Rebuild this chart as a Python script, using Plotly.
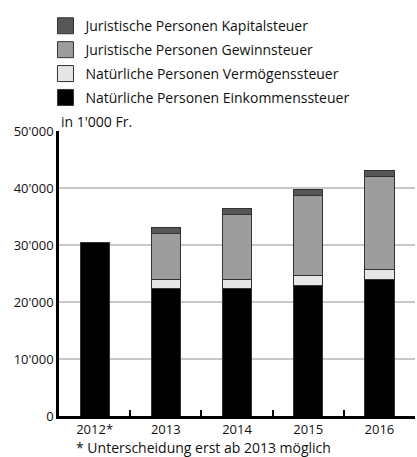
import plotly.graph_objects as go

years = ["2012*", "2013", "2014", "2015", "2016"]

# values in 1'000 Fr.
einkommen = [30500, 22400, 22400, 22950, 24000]
vermoegen = [0, 1600, 1500, 1650, 1650]
gewinn = [0, 8050, 11400, 14000, 16300]
kapital = [0, 1000, 1050, 1100, 1200]

SERIES = [
    ("Natürliche Personen Einkommenssteuer", einkommen, "#000000"),
    ("Natürliche Personen Vermögenssteuer", vermoegen, "#e6e6e6"),
    ("Juristische Personen Gewinnsteuer", gewinn, "#9d9d9d"),
    ("Juristische Personen Kapitalsteuer", kapital, "#575757"),
]
FONT = "Open Sans"
OUTLINE = "#333333"

fig = go.Figure()
for name, values, color in SERIES:
    fig.add_trace(go.Bar(
        x=years, y=values, name=name, showlegend=False,
        marker={"color": color, "line": {"color": OUTLINE, "width": 1}},
        hoverinfo="skip",
    ))
# legend proxies (top entry = top of the stack), larger swatches than the bar icon
for i, (name, values, color) in enumerate(reversed(SERIES)):
    fig.add_trace(go.Scatter(
        x=[None], y=[None], mode="markers", name=name, legendgroup=f"g{i}",
        marker={"symbol": "square", "size": 16, "color": color,
                "line": {"color": OUTLINE, "width": 1}},
    ))

fig.update_layout(
    width=417, height=457,
    barmode="stack", bargap=0.59,
    separators=".'",
    paper_bgcolor="white", plot_bgcolor="white",
    font={"family": FONT, "size": 14, "color": "#111111"},
    margin={"l": 59, "r": 2, "t": 131, "b": 41, "autoexpand": False},
    legend={
        "x": -0.038, "y": 1.424, "xanchor": "left", "yanchor": "top",
        "traceorder": "grouped", "tracegroupgap": 2.7,
        "font": {"family": FONT, "size": 14, "color": "#111111"},
        "bgcolor": "rgba(0,0,0,0)",
    },
    annotations=[
        dict(text="in 1'000 Fr.", x=0, y=1, xref="paper", yref="paper",
             xanchor="left", yanchor="bottom", xshift=0, yshift=-2,
             showarrow=False, font={"family": FONT, "size": 14, "color": "#111111"}),
        dict(text="* Unterscheidung erst ab 2013 möglich", x=0.042, y=0,
             xref="paper", yref="paper", xanchor="left", yanchor="top",
             yshift=-20, showarrow=False,
             font={"family": FONT, "size": 14, "color": "#111111"}),
    ],
)
fig.update_xaxes(
    type="category", showline=True, linecolor="#000000", linewidth=2.5,
    ticks="inside", tickson="boundaries", ticklen=6, tickwidth=2, tickcolor="#000000",
    showgrid=False, tickfont={"family": FONT, "size": 13, "color": "#111111"},
)
fig.update_yaxes(
    range=[0, 50000], dtick=10000, tickformat=",d",
    showline=True, linecolor="#000000", linewidth=2.5, zeroline=False,
    showgrid=True, gridcolor="#c8c8c8", gridwidth=1.5,
    ticks="", tickfont={"family": FONT, "size": 13, "color": "#111111"},
)

# drop the browser's default 8px body margin so the figure fills the window
fig.write_html("out.html", config={"displayModeBar": False},
               post_script="document.body.style.margin = '0';")
